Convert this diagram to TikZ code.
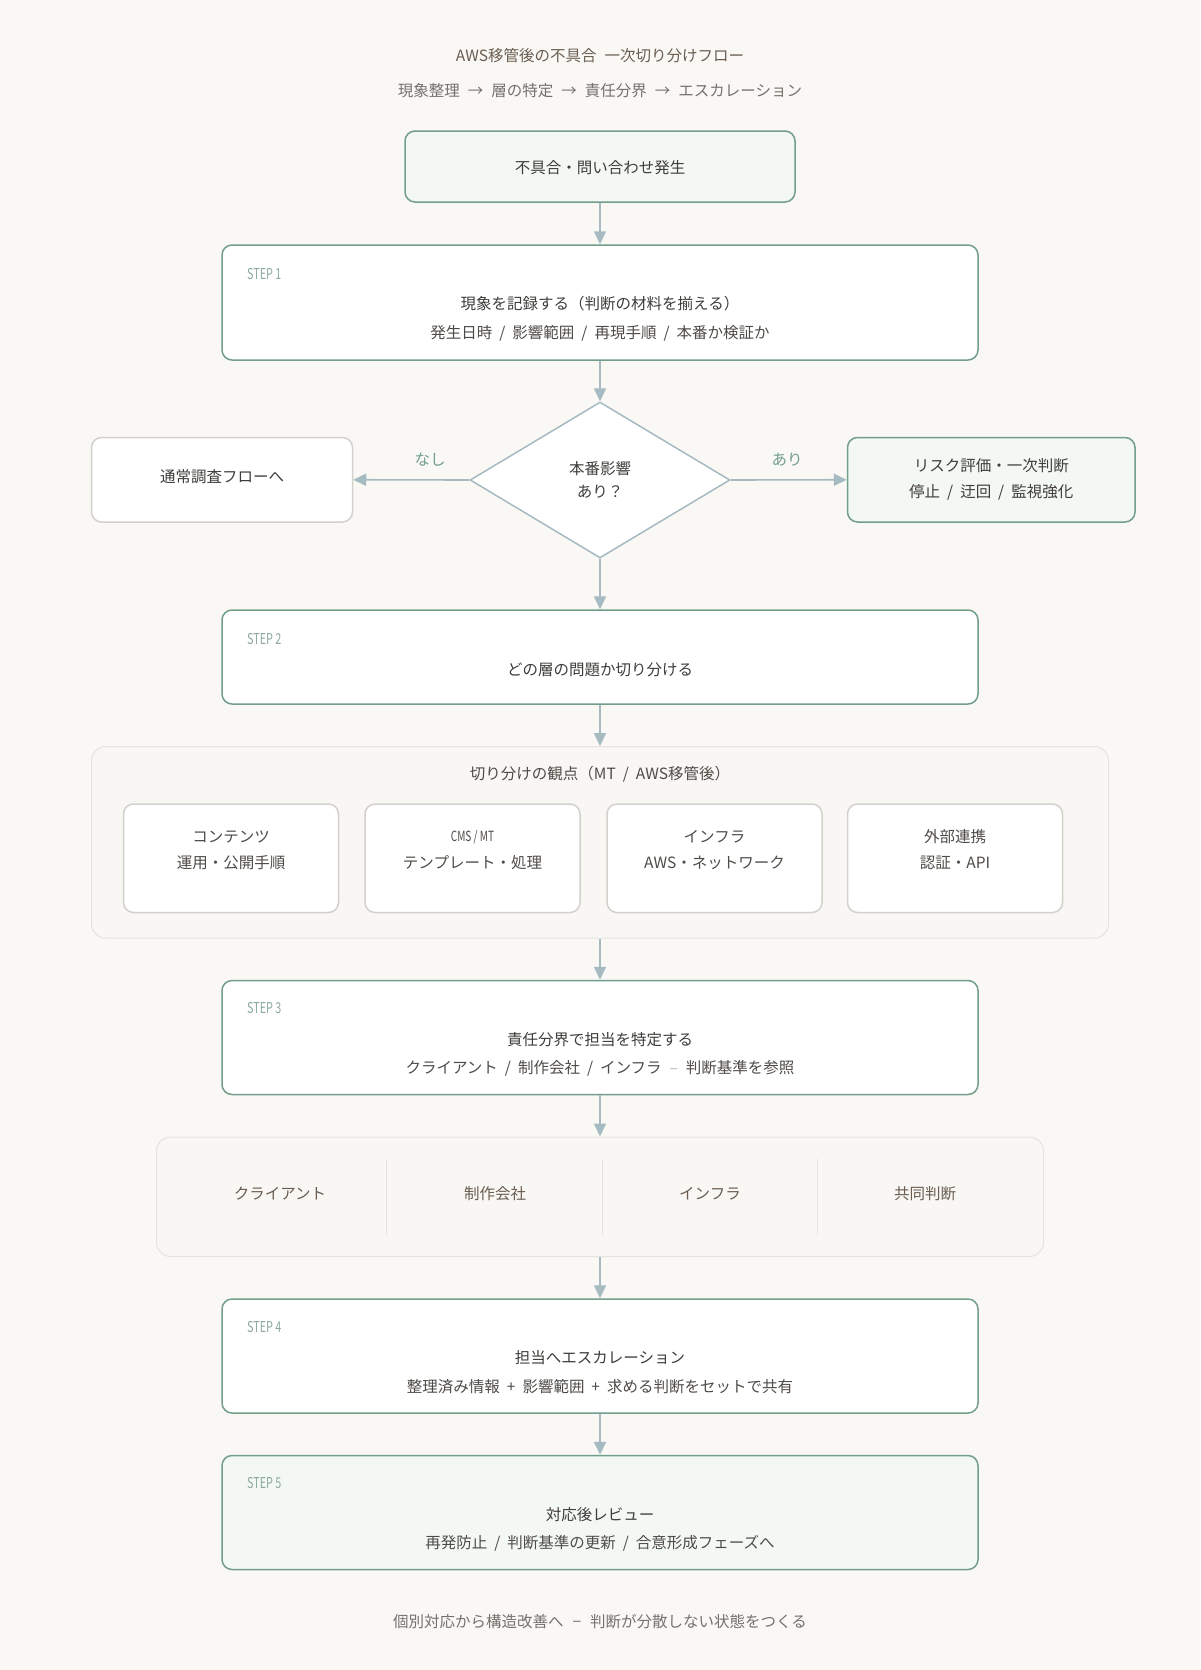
\documentclass[tikz,border=0pt]{standalone}
\usepackage{fontspec}
\setmainfont{Noto Sans CJK JP}
\newfontfamily\stepfont[FakeStretch=0.72]{Noto Sans CJK JP}
\usetikzlibrary{shapes.geometric,arrows.meta}
\definecolor{bg}{HTML}{F9F8F5}
\definecolor{grn}{HTML}{729E8B}
\definecolor{grnfill}{HTML}{F3F8F5}
\definecolor{steptxt}{HTML}{8DAA9D}
\definecolor{txt}{HTML}{3F3D3A}
\definecolor{subtxt}{HTML}{4F4C48}
\definecolor{ttl}{HTML}{6A5D50}
\definecolor{gray1}{HTML}{75726E}
\definecolor{arr}{HTML}{A6BAC1}
\definecolor{gbord}{HTML}{D3D1CC}
\definecolor{grpbord}{HTML}{E6E3DE}
\definecolor{grpfill}{HTML}{F8F7F4}
\newcommand\slsep{\hspace{7pt}/\hspace{7pt}}
\newcommand\arsep{\hspace{8pt}→\hspace{8pt}}
\tikzset{
  stepbox/.style={draw=grn, line width=1.5pt, fill=white, rounded corners=10pt, minimum width=756pt, inner sep=0pt},
  graybox/.style={draw=gbord, line width=1.5pt, fill=white, rounded corners=10pt, inner sep=0pt},
  grpbox/.style={draw=grpbord, line width=1pt, fill=grpfill, rounded corners=14pt, inner sep=0pt},
  steplbl/.style={anchor=west, text=steptxt, font=\stepfont\fontsize{15}{15}\selectfont, inner sep=0pt},
  mtxt/.style={text=txt, font=\fontsize{15.5}{15.5}\selectfont, inner sep=0pt},
  stxt/.style={text=subtxt, font=\fontsize{15.5}{15.5}\selectfont, inner sep=0pt},
  arrow/.style={draw=arr, line width=1.6pt, -{Triangle[length=13pt,width=12pt]}},
  lbl/.style={text=grn, font=\fontsize{15.5}{15.5}\selectfont, inner sep=0pt},
  rlbl/.style={text=ttl, font=\fontsize{15.5}{15.5}\selectfont, inner sep=0pt},
}
\begin{document}
\begin{tikzpicture}[x=1pt,y=-1pt]
\useasboundingbox (0,0) rectangle (1200,1670);
\fill[bg] (0,0) rectangle (1200,1670);

% titles
\node[text=ttl, font=\fontsize{15.5}{15.5}\selectfont, inner sep=0pt] (title) at (600,56) {AWS移管後の不具合\hspace{8pt}一次切り分けフロー};
\node[text=gray1, font=\fontsize{15.5}{15.5}\selectfont, inner sep=0pt] (subtitle) at (600,90.5) {現象整理\arsep 層の特定\arsep 責任分界\arsep エスカレーション};

% start box
\node[draw=grn, line width=1.5pt, fill=grnfill, rounded corners=10pt, minimum width=390pt, minimum height=71pt, inner sep=0pt] (start) at (600,166.5) {};
\node[mtxt] at (600,168) {不具合・問い合わせ発生};

% step 1
\node[stepbox, minimum height=115pt] (s1) at (600,302.5) {};
\node[steplbl] at (247,274) {STEP 1};
\node[mtxt] at (600,304) {現象を記録する（判断の材料を揃える）};
\node[stxt] at (600,333) {発生日時\slsep 影響範囲\slsep 再現手順\slsep 本番か検証か};

% diamond
\node[diamond, aspect=1.667, minimum width=260pt, minimum height=156pt, inner sep=0pt, draw=arr, line width=1.5pt, fill=white] (dec) at (600,480) {};
\node[mtxt] at (600,468.5) {本番影響};
\node[mtxt] at (600,492) {あり？};

% left/right boxes
\node[graybox, minimum width=261pt, minimum height=84.5pt] (left) at (222,479.75) {};
\node[mtxt] at (222,477) {通常調査フローへ};
\node[draw=grn, line width=1.5pt, fill=grnfill, rounded corners=10pt, minimum width=287.5pt, minimum height=84.5pt, inner sep=0pt] (right) at (991.25,479.75) {};
\node[mtxt] at (991.25,466) {リスク評価・一次判断};
\node[mtxt] at (991.25,492) {停止\slsep 迂回\slsep 監視強化};

\node[lbl] at (430,460) {なし};
\node[lbl] at (787,460) {あり};

% step 2
\node[stepbox, minimum height=94pt] (s2) at (600,657) {};
\node[steplbl] at (247,639) {STEP 2};
\node[mtxt] at (600,669.5) {どの層の問題か切り分ける};

% group
\node[grpbox, minimum width=1017pt, minimum height=191.5pt] (grp) at (600,842.25) {};
\node[stxt] at (600,774) {切り分けの観点（MT\slsep AWS移管後）};
\node[graybox, minimum width=215pt, minimum height=108.5pt] (v1) at (231,858.25) {};
\node[graybox, minimum width=215pt, minimum height=108.5pt] (v2) at (472.5,858.25) {};
\node[graybox, minimum width=215pt, minimum height=108.5pt] (v3) at (714.5,858.25) {};
\node[graybox, minimum width=215pt, minimum height=108.5pt] (v4) at (955,858.25) {};
\node[stxt] at (231,837) {コンテンツ};
\node[stxt] at (231,862.5) {運用・公開手順};
\node[text=subtxt, font=\stepfont\fontsize{14}{14}\selectfont, inner sep=0pt] at (472.5,837) {CMS / MT};
\node[stxt] at (472.5,862.5) {テンプレート・処理};
\node[stxt] at (714.5,837) {インフラ};
\node[stxt] at (714.5,862.5) {AWS・ネットワーク};
\node[stxt] at (955,837) {外部連携};
\node[stxt] at (955,862.5) {認証・API};

% step 3
\node[stepbox, minimum height=114pt] (s3) at (600,1037.5) {};
\node[steplbl] at (247,1008) {STEP 3};
\node[mtxt] at (600,1039.5) {責任分界で担当を特定する};
\node[stxt] at (600,1068) {クライアント\slsep 制作会社\slsep インフラ\hspace{8pt}{\color{arr}–}\hspace{8pt}判断基準を参照};

% responsibility bar
\node[grpbox, minimum width=887pt, minimum height=119.5pt] (bar) at (600,1196.75) {};
\foreach \xx in {386.5,602.7,817.8} \draw[grpbord, line width=1pt] (\xx,1158.5) -- (\xx,1235);
\node[rlbl] (r1) at (280,1194) {クライアント};
\node[rlbl] (r2) at (495,1194) {制作会社};
\node[rlbl] (r3) at (710,1194) {インフラ};
\node[rlbl] (r4) at (925,1194) {共同判断};

% step 4
\node[stepbox, minimum height=114pt] (s4) at (600,1356) {};
\node[steplbl] at (247,1327) {STEP 4};
\node[mtxt] at (600,1358) {担当へエスカレーション};
\node[stxt] at (600,1386.5) {整理済み情報\hspace{7pt}+\hspace{7pt}影響範囲\hspace{7pt}+\hspace{7pt}求める判断をセットで共有};

% step 5
\node[stepbox, fill=grnfill, minimum height=114pt] (s5) at (600,1512.5) {};
\node[steplbl] at (247,1483) {STEP 5};
\node[mtxt] at (600,1514.5) {対応後レビュー};
\node[stxt] at (600,1543) {再発防止\slsep 判断基準の更新\slsep 合意形成フェーズへ};

% footer
\node[text=gray1, font=\fontsize{15.5}{15.5}\selectfont, inner sep=0pt] (foot) at (600,1622) {個別対応から構造改善へ\hspace{9pt}−\hspace{9pt}判断が分散しない状態をつくる};

% arrows
\draw[arrow] (start.south) -- (s1.north);
\draw[arrow] (s1.south) -- (dec.north);
\draw[arrow] (dec.west) -- (left.east);
\draw[arrow] (dec.east) -- (right.west);
\draw[arrow] (dec.south) -- (s2.north);
\draw[arrow] (s2.south) -- (grp.north);
\draw[arrow] (grp.south) -- (s3.north);
\draw[arrow] (s3.south) -- (bar.north);
\draw[arrow] (bar.south) -- (s4.north);
\draw[arrow] (s4.south) -- (s5.north);
\end{tikzpicture}
\end{document}
